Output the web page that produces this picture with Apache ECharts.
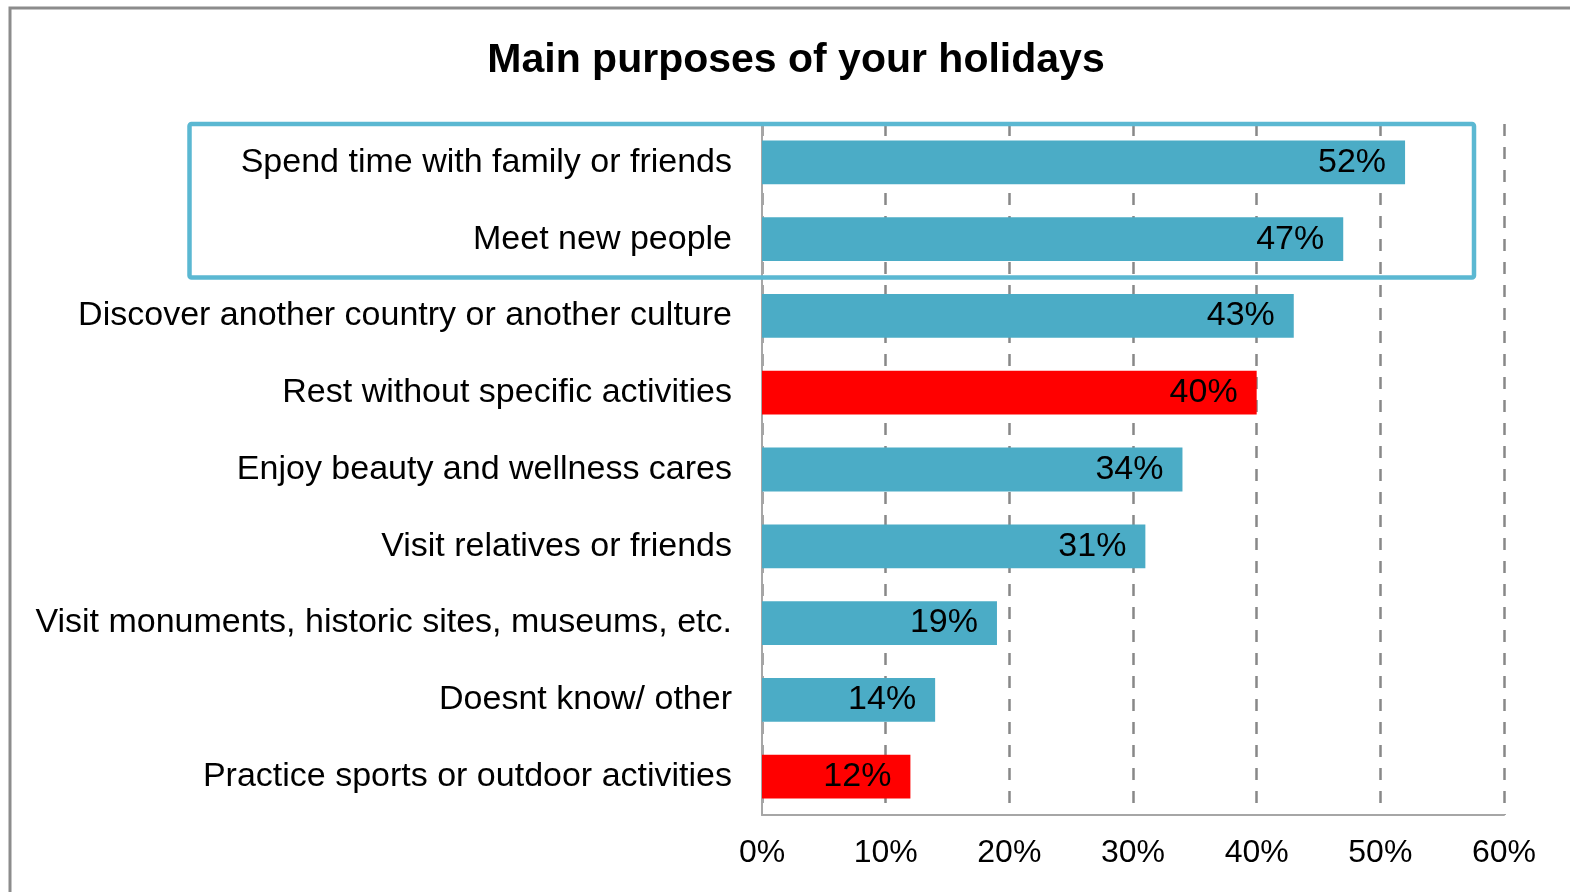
<!DOCTYPE html>
<html>
<head>
<meta charset="utf-8">
<title>Main purposes of your holidays</title>
<script src="https://cdn.jsdelivr.net/npm/echarts@6/dist/echarts.min.js"></script>
<style>
  html, body { margin: 0; padding: 0; background: #fff; }
  #chart { width: 1570px; height: 892px; }
</style>
</head>
<body>
<div id="chart"></div>
<script>
// Survey answers, top to bottom
const categories = [
  'Spend time with family or friends',
  'Meet new people',
  'Discover another country or another culture',
  'Rest without specific activities',
  'Enjoy beauty and wellness cares',
  'Visit relatives or friends',
  'Visit monuments, historic sites, museums, etc.',
  'Doesnt know/ other',
  'Practice sports or outdoor activities'
];
const shares = [52, 47, 43, 40, 34, 31, 19, 14, 12];
// answers shown in red
const emphasised = [
  'Rest without specific activities',
  'Practice sports or outdoor activities'
];
// number of top answers enclosed by the frame
const framedCount = 2;

const FONT = '"Liberation Sans", Arial, sans-serif';
const BLUE = '#4bacc6';
const RED = '#ff0000';

const chart = echarts.init(document.getElementById('chart'), null, { renderer: 'canvas' });

const GRID = { left: 762, top: 124, width: 742, height: 691 };

const option = {
  animation: false,
  backgroundColor: '#ffffff',
  title: {
    text: 'Main purposes of your holidays',
    left: 791,
    top: 35,
    textAlign: 'center',
    textStyle: { fontFamily: FONT, fontSize: 41, fontWeight: 'bold', color: '#000' }
  },
  grid: GRID,
  xAxis: {
    type: 'value',
    min: 0,
    max: 60,
    interval: 10,
    axisLine: { show: true, lineStyle: { color: '#a6a6a6', width: 2 } },
    axisTick: { show: false },
    axisLabel: {
      formatter: '{value}%',
      margin: 22,
      fontFamily: FONT,
      fontSize: 32,
      color: '#000'
    },
    splitLine: {
      show: true,
      lineStyle: { color: '#888888', width: 2.5, type: [12, 11] }
    }
  },
  yAxis: {
    type: 'category',
    data: categories,
    inverse: true,
    axisLine: { show: true, lineStyle: { color: '#a6a6a6', width: 2 } },
    axisTick: { show: false },
    axisLabel: {
      margin: 30,
      fontFamily: FONT,
      fontSize: 34,
      color: '#000'
    }
  },
  series: [{
    type: 'bar',
    barWidth: '57%',
    data: shares.map((v, i) => ({
      value: v,
      itemStyle: { color: emphasised.includes(categories[i]) ? RED : BLUE }
    })),
    label: {
      show: true,
      position: 'insideRight',
      distance: 19,
      formatter: '{c}%',
      fontFamily: FONT,
      fontSize: 34,
      color: '#000'
    }
  }]
};

chart.setOption(option);

// Frame around the top answers, spanning their category bands
const bandTop = GRID.top;
const bandBottom = GRID.top + GRID.height * framedCount / categories.length;
chart.setOption({
  graphic: [
    {
      type: 'rect',
      shape: { x: 10, y: 8, width: 1600, height: 950 },
      style: { fill: 'none', stroke: '#8c8c8c', lineWidth: 3 },
      z: 100
    },
    {
      type: 'rect',
      shape: { x: 189.5, y: bandTop, width: 1284.5, height: bandBottom - bandTop, r: 2 },
      style: { fill: 'none', stroke: '#5bb8d2', lineWidth: 4.5 },
      z: 100
    }
  ]
});
</script>
</body>
</html>
